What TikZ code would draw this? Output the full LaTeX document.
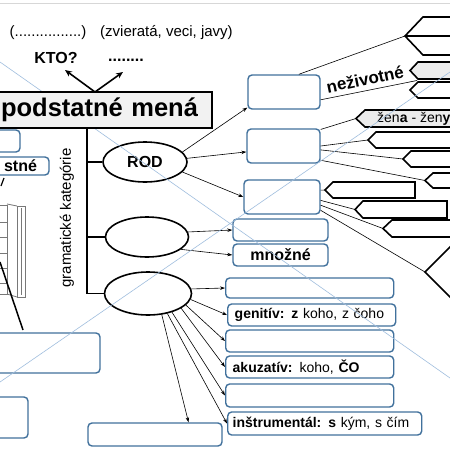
\documentclass[tikz,border=0pt]{standalone}
\usepackage{fontspec}
\setmainfont{Liberation Sans}
\usetikzlibrary{shapes.geometric,arrows.meta,calc}
\definecolor{boxblue}{RGB}{65,113,156}
\definecolor{guideblue}{RGB}{160,190,222}
\definecolor{boxgray}{RGB}{242,242,242}
\definecolor{chevgray}{RGB}{236,236,236}
\definecolor{cabgray}{RGB}{120,120,120}
\definecolor{topgray}{RGB}{215,215,215}
\begin{document}
\begin{tikzpicture}[x=1pt,y=-1pt,
 bluebox/.style={draw=boxblue, line width=1.4pt, rounded corners=4pt, inner sep=0pt},
 ell/.style={ellipse, draw, line width=1.6pt, inner sep=0pt},
 chev/.style={draw, line width=1.6pt, line join=miter},
 conn/.style={line width=0.6pt},
 arr/.style={conn, -{Stealth[length=5pt,width=3.5pt]}},
 bigarr/.style={line width=1.6pt, -{Stealth[length=7pt,width=6pt]}},
 thickline/.style={line width=1.8pt},
 guide/.style={draw=guideblue, line width=0.6pt},
 txt/.style={font=\fontsize{15}{17}\selectfont},
 ctxt/.style={font=\fontsize{14}{16}\selectfont},
 btxt/.style={font=\bfseries\fontsize{16}{18}\selectfont},
]
\fill[white] (0,0) rectangle (450,450);
\useasboundingbox (0,0) rectangle (450,450);
\clip (0,0) rectangle (450,450);
\draw[topgray, line width=0.8pt] (0,3) -- (450,3);

% top texts
\node[txt, inner sep=0pt] (dots1) at (48,33) {(................)};
\node[txt, inner sep=0pt, anchor=west] (examples) at (100,33) {(zvieratá, veci, javy)};
\node[btxt, inner sep=0pt] (kto) at (56,58) {KTO?};
\node[btxt, inner sep=0pt] (dots2) at (126,60) {........};
\coordinate (j) at (95,92);
\coordinate (t1) at (65,70);
\coordinate (t2) at (123,72);
\draw[bigarr] (j) -- (t1);
\draw[bigarr] (j) -- (t2);

% spine and ellipses
\node[ell, minimum width=84pt, minimum height=40pt, btxt] (rod) at (145,162) {ROD};
\node[ell, minimum width=83pt, minimum height=40pt] (e2) at (147,237) {};
\node[ell, minimum width=87pt, minimum height=43pt] (e3) at (148,293.5) {};
\coordinate (s0) at (87,128);
\draw[thickline] (s0) -- (s0 |- e3.west);
\draw[thickline] (s0 |- rod.west) -- (rod.west);
\draw[thickline] (s0 |- e2.west) -- (e2.west);
\draw[thickline] (s0 |- e3.west) -- (e3.west);
\node[txt, inner sep=0pt, rotate=90] (gk) at (67,218) {gramatické kategórie};

% gender boxes
\node[bluebox, minimum width=72pt, minimum height=34pt] (r1) at (284,92) {};
\node[bluebox, minimum width=73pt, minimum height=34pt] (r2) at (283.5,146) {};
\node[bluebox, minimum width=76pt, minimum height=34pt] (r3) at (282,197) {};
\draw[arr] (rod.15) -- (r1.203);
\draw[arr] (rod.5) -- (r2.189);
\draw[arr] (rod.-15) -- (r3.west);

% number boxes
\node[bluebox, minimum width=95pt, minimum height=22pt] (sg) at (280.5,230) {};
\node[bluebox, minimum width=95pt, minimum height=22pt, btxt] (pl) at (280.5,255) {množné};
\draw[arr] (e2.7) -- (sg.west);
\draw[arr] (e2.-20) -- (pl.west);

% case boxes
\node[bluebox, anchor=west, minimum width=168pt, minimum height=20pt] (k1) at (225,288) {};
\node[bluebox, anchor=west, minimum height=22pt, inner xsep=7pt, text width=154pt, align=left, ctxt] (k2) at (227,315) {\textbf{genitív: z} koho, z čoho};
\node[bluebox, anchor=west, minimum width=168pt, minimum height=22pt] (k3) at (225,341) {};
\node[bluebox, anchor=west, minimum height=22pt, inner xsep=7pt, text width=154pt, align=left, ctxt] (k4) at (225,367) {\textbf{akuzatív:} koho, \textbf{ČO}};
\node[bluebox, anchor=west, minimum width=168pt, minimum height=23pt] (k5) at (225,395.5) {};
\node[bluebox, anchor=west, minimum height=23pt, inner xsep=5pt, text width=184pt, align=left, ctxt] (k6) at (227,423.5) {\textbf{inštrumentál: s} kým, s čím};
\node[bluebox, minimum width=134pt, minimum height=23pt] (kb) at (155,434.5) {};
\draw[arr] (e3.6) -- (k1.west);
\draw[arr] (e3.-8) -- (k2.west);
\draw[arr] (e3.-17) -- (k3.west);
\draw[arr] (e3.-24) -- (k4.west);
\draw[arr] (e3.-38) -- (k5.west);
\draw[arr] (e3.-46) -- (k6.west);
\draw[arr] (e3.-57) -- (kb.20);

% right chevrons for r1
\coordinate (g1) at (405,36);
\draw[chev] (460,17) -- (423,17) -- (g1) -- (423,55) -- (460,55);
\draw[chev] (g1) -- (460,36);
\draw[conn] (r1.50) -- (g1);
\draw[chev, fill=chevgray] (460,62) -- (418,62) -- (410,70.5) -- (418,79) -- (460,79);
\draw[chev, fill=white] (460,82) -- (418,82) -- (410,90) -- (418,98) -- (460,98);
\coordinate (g2) at (417,80.5);
\draw[conn] (r1.-12) -- (g2);
\node[font=\bfseries\fontsize{17}{19}\selectfont, inner sep=0pt, rotate=11.6] (neziv) at (365,79) {neživotné};

% right chevrons for r2
\coordinate (g3) at (356,118.5);
\draw[chev, fill=chevgray] (460,110) -- (365,110) -- (g3) -- (365,127) -- (460,127);
\node[ctxt, inner sep=0pt, anchor=west] (zena) at (377,118.5) {žen\textbf{a} - žen\textbf{y}};
\draw[conn] (r2.24) -- (g3);
\coordinate (g4) at (368,140);
\draw[chev] (460,132) -- (376,132) -- (g4) -- (376,148) -- (460,148);
\draw[conn] (r2.east) -- (g4);
\coordinate (g5) at (403,159);
\draw[chev] (460,151) -- (411,151) -- (g5) -- (411,167) -- (460,167);
\draw[conn] (r2.-6) -- (g5);
\coordinate (g6) at (425,180.5);
\draw[chev] (460,173) -- (433,173) -- (g6) -- (433,188) -- (460,188);
\draw[conn] (r2.-21) -- (g6);

% right chevrons for r3
\coordinate (h1) at (325,190);
\draw[chev] (415,182) -- (333,182) -- (h1) -- (333,198) -- (415,198) -- cycle;
\draw[conn] (r3.10) -- (h1);
\coordinate (h2) at (355,209.5);
\draw[chev] (447,201) -- (363,201) -- (h2) -- (363,218) -- (447,218) -- cycle;
\draw[conn] (r3.-5) -- (h2);
\coordinate (h3) at (383,228.5);
\draw[chev] (460,220) -- (392,220) -- (h3) -- (392,237) -- (460,237);
\draw[conn] (r3.-12) -- (h3);
\coordinate (h4) at (425,272);
\draw[chev] (460,237) -- (h4) -- (460,307);
\draw[conn] (r3.-19) -- (h4);

% left side
\node[bluebox, minimum width=80pt, minimum height=22pt] (la) at (-20,141) {};
\node[bluebox, minimum height=18pt, inner xsep=12pt, inner ysep=0pt, text width=114pt, align=right, btxt] (lb) at (-20,166) {stné};
\node[bluebox, minimum width=140pt, minimum height=40pt] (lc) at (30,353) {};
\node[bluebox, minimum width=96pt, minimum height=41pt] (ld) at (-20,417.5) {};
\draw[line width=1.2pt] (4,178) -- (1,186);
\draw[cabgray, line width=0.8pt] (-3,205) rectangle (7,294);
\foreach \yy in {222,237,253,268,283} \draw[cabgray, line width=0.8pt] (-3,\yy) -- (7,\yy);
\draw[cabgray, line width=0.8pt] (7,204) -- (17,206);
\draw[cabgray, line width=0.8pt] (7,294) -- (17,297);
\draw[cabgray, line width=0.8pt] (17,206) rectangle (25,297);
\draw[cabgray, line width=0.8pt] (21,208) -- (21,295);
\draw[line width=1.5pt] (0,262) -- (23,330);

% guide lines
\draw[guide] (0,62) -- (450,378);
\draw[guide] (0,382) -- (450,72);

% main box
\node[draw, line width=1.6pt, fill=boxgray, inner xsep=14pt, inner ysep=0pt, text width=210pt, minimum height=36pt, align=right, font=\bfseries\fontsize{25.5}{27}\selectfont] (main) at (93,110) {podstatné mená};
\end{tikzpicture}
\end{document}
